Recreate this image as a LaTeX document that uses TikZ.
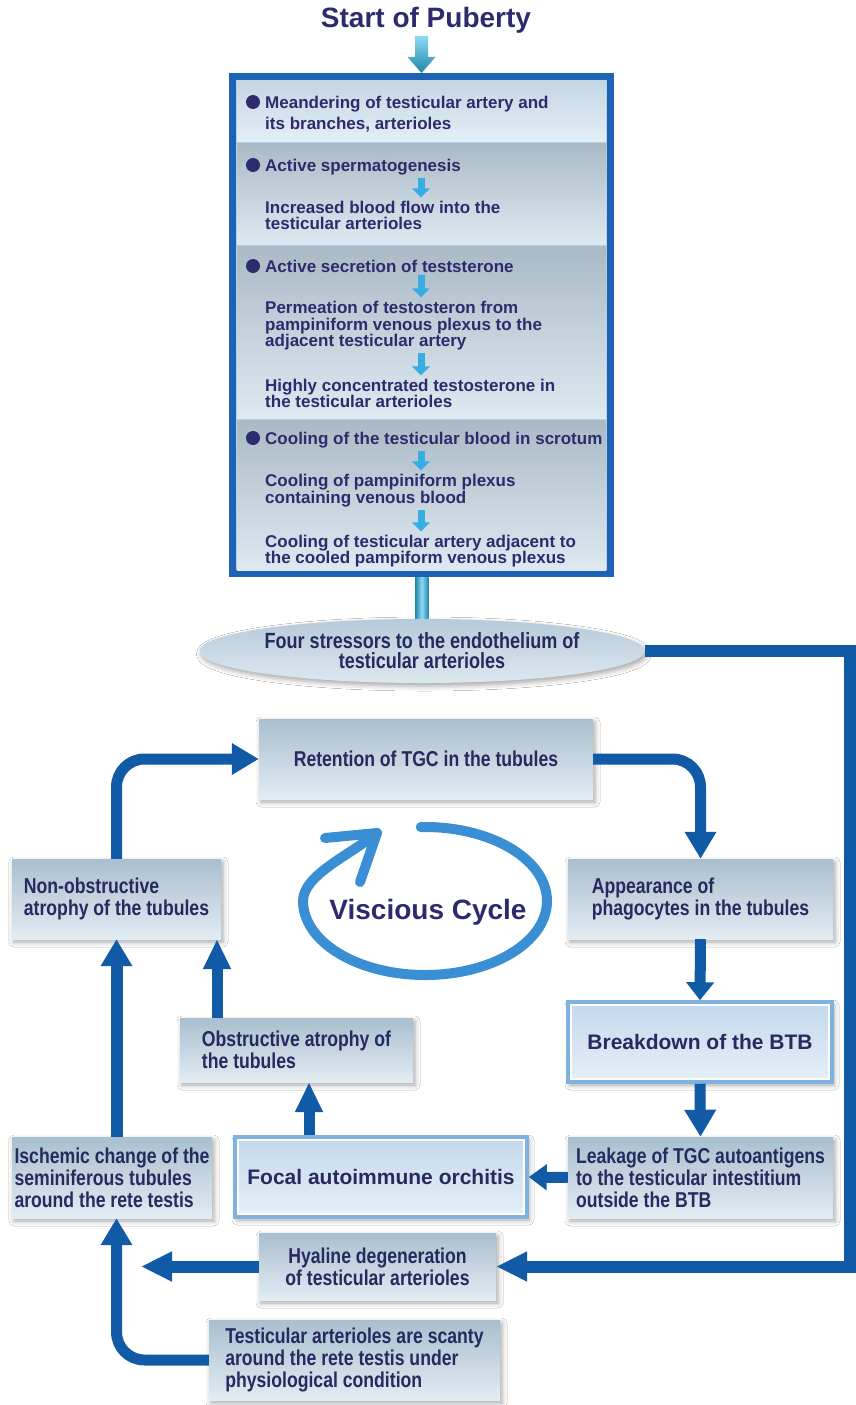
\documentclass[tikz,border=0pt]{standalone}
\usepackage{fontspec}
\setmainfont{Liberation Sans}
\newfontfamily\narrowsans[FakeStretch=0.82]{Liberation Sans}
\usetikzlibrary{arrows.meta,shapes.geometric,calc,shadows.blur}

\definecolor{navy}{HTML}{2D2B6D}
\definecolor{boxtext}{HTML}{262A5E}
\definecolor{arrowblue}{HTML}{115AA6}
\definecolor{framebl}{HTML}{1C62B5}
\definecolor{cycleblue}{HTML}{3A8ED3}
\definecolor{cyanar}{HTML}{36ADE3}
\definecolor{boxtop}{HTML}{A9BFCF}
\definecolor{boxbot}{HTML}{E2ECF3}
\definecolor{keyedge}{HTML}{80B2E0}
\definecolor{keytop}{HTML}{C2D8EC}
\definecolor{keybot}{HTML}{E6F0F8}
\definecolor{secgap}{HTML}{B4D0E8}
\definecolor{secAtop}{HTML}{C3D6E4}
\definecolor{secAbot}{HTML}{E4EEF5}
\definecolor{sectop}{HTML}{A9BAC6}
\definecolor{secbot}{HTML}{DEE9F1}
\definecolor{elltop}{HTML}{B6CAD9}
\definecolor{ellbot}{HTML}{DCE8F0}
\definecolor{tealdark}{HTML}{1F86A8}
\definecolor{cyanlight}{HTML}{8EDAF3}

\tikzset{
  softshadow/.style={blur shadow={shadow xshift=2pt, shadow yshift=-3pt,
      shadow blur radius=5pt, shadow opacity=35}},
  lowbox/.style={rectangle, inner sep=0pt, top color=boxtop, bottom color=boxbot,
      softshadow, text=boxtext, align=left,
      font=\narrowsans\bfseries\fontsize{21.5}{22}\selectfont},
  keybox/.style={rectangle, inner sep=0pt, draw=keyedge, line width=3.5pt,
      top color=keytop, bottom color=keybot, softshadow, text=boxtext, align=center,
      font=\bfseries\fontsize{21}{24}\selectfont,
      path picture={\draw[white, line width=1.2pt]
        ([shift={(3,3)}]path picture bounding box.north west) rectangle
        ([shift={(-3,-3)}]path picture bounding box.south east);}},
  toptext/.style={anchor=base west, inner sep=0pt, text=navy,
      font=\bfseries\fontsize{17}{17}\selectfont},
  flow/.style={arrowblue, line width=11pt, rounded corners=28pt,
      -{Triangle[length=27pt,width=30pt]}},
  shortflow/.style={arrowblue, line width=11pt, -{Triangle[length=18pt,width=27pt]}},
  smallarr/.style={cyanar, line width=7pt, shorten <=3pt, shorten >=3pt,
      -{Triangle[length=9pt,width=17pt]}},
  cyclearc/.style={cycleblue, line width=10pt, line cap=round, line join=round},
}

\begin{document}
\begin{tikzpicture}[x=1pt,y=-1pt]
\useasboundingbox (0,0) rectangle (856,1405);
\fill[white] (0,0) rectangle (856,1405);

% ---------- title and the framed list of conditions ----------
\node[text=navy, font=\bfseries\fontsize{28}{30}\selectfont, inner sep=0pt]
  (title) at (426,20) {Start of Puberty};

\node[draw=framebl, line width=7pt, fill=secgap, inner sep=0pt,
      minimum width=378, minimum height=497] (frame) at (421.5,325) {};
\shade[top color=secAtop, bottom color=secAbot] (237,80) rectangle (606,141);
\shade[top color=sectop, bottom color=secbot] (237,143) rectangle (606,244);
\shade[top color=sectop, bottom color=secbot] (237,246) rectangle (606,418);
\shade[top color=sectop, bottom color=secbot] (237,420) rectangle (606,570);

% arrow from the title into the frame
\shade[top color=cyanlight, bottom color=tealdark]
  (frame.north) -- ++(-14,-16) -- ++(7.5,0) -- ++(0,-21) -- ++(13,0)
  -- ++(0,21) -- ++(7.5,0) -- cycle;

\foreach \y in {102,165,266,438} \fill[navy] (253,\y) circle[radius=7];

\node[toptext] (m1) at (265,108) {Meandering of testicular artery and};
\node[toptext] (m2) at (265,129) {its branches, arterioles};
\node[toptext] (sp1) at (265,171) {Active spermatogenesis};
\node[toptext] (sp2) at (265,213) {Increased blood flow into the};
\node[toptext] (sp3) at (265,229) {testicular arterioles};
\node[toptext] (ts1) at (265,272) {Active secretion of teststerone};
\node[toptext] (ts2) at (265,313) {Permeation of testosteron from};
\node[toptext] (ts3) at (265,330) {pampiniform venous plexus to the};
\node[toptext] (ts4) at (265,346) {adjacent testicular artery};
\node[toptext] (ts5) at (265,391) {Highly concentrated testosterone in};
\node[toptext] (ts6) at (265,407) {the testicular arterioles};
\node[toptext] (co1) at (265,444) {Cooling of the testicular blood in scrotum};
\node[toptext] (co2) at (265,486) {Cooling of pampiniform plexus};
\node[toptext] (co3) at (265,503) {containing venous blood};
\node[toptext] (co4) at (265,547) {Cooling of testicular artery adjacent to};
\node[toptext] (co5) at (265,563) {the cooled pampiform venous plexus};

\coordinate (ax) at (421,0);
\draw[smallarr] (sp1.south -| ax) -- (sp2.north -| ax);
\draw[smallarr] (ts1.south -| ax) -- (ts2.north -| ax);
\draw[smallarr] (ts4.south -| ax) -- (ts5.north -| ax);
\draw[smallarr] (co1.south -| ax) -- (co2.north -| ax);
\draw[smallarr] (co3.south -| ax) -- (co4.north -| ax);

% ---------- the four stressors ----------
\node[ellipse, inner sep=0pt, minimum width=440, minimum height=64,
      top color=elltop, bottom color=ellbot, softshadow, align=center, text=boxtext,
      font=\narrowsans\bfseries\fontsize{22}{20}\selectfont]
  (ell) at (422,651) {Four stressors to the endothelium of\\testicular arterioles};
\shade[left color=tealdark, right color=tealdark, middle color=cyanlight]
  ($(frame.south)+(-6.5,0)$) rectangle ($(ell.north)+(6.5,0)$);

% ---------- boxes of the cycle ----------
\node[lowbox, minimum width=334, minimum height=80, align=center] (ret) at (426,759)
  {Retention of TGC in the tubules};
\node[lowbox, minimum width=209, minimum height=80] (nonobs) at (116.5,899)
  {Non-obstructive\\atrophy of the tubules};
\node[lowbox, minimum width=265, minimum height=80] (app) at (700.5,899)
  {Appearance of\\phagocytes in the tubules};
\node[keybox, minimum width=264, minimum height=80] (btb) at (700,1042)
  {Breakdown of the BTB};
\node[lowbox, minimum width=233, minimum height=64] (obs) at (296.5,1050)
  {Obstructive atrophy of\\the tubules};
\node[lowbox, minimum width=200, minimum height=81] (isch) at (112,1177.5)
  {Ischemic change of the\\seminiferous tubules\\around the rete testis};
\node[keybox, minimum width=292, minimum height=80] (focal) at (381,1177)
  {Focal autoimmune orchitis};
\node[lowbox, minimum width=265, minimum height=81] (leak) at (700.5,1177.5)
  {Leakage of TGC autoantigens\\to the testicular intestitium\\outside the BTB};
\node[lowbox, minimum width=237, minimum height=67, align=center] (hya) at (377.5,1266.5)
  {Hyaline degeneration\\of testicular arterioles};
\node[lowbox, minimum width=291, minimum height=80] (tst) at (354.5,1360)
  {Testicular arterioles are scanty\\around the rete testis under\\physiological condition};

% the cycle symbol
\node[text=navy, font=\bfseries\fontsize{28}{30}\selectfont, inner sep=0pt]
  (vc) at (428,912) {Viscious Cycle};
\coordinate (cc) at (425,901);
\draw[cyclearc] (cc) ++(268:122 and 74)
  arc[start angle=268, end angle=540, x radius=122, y radius=74]
  .. controls +(0,-26) and (350,855) .. (377,833) coordinate (tip);
\draw[cyclearc] (325,838) -- (tip) -- (360,882);

% ---------- connectors ----------
\coordinate (rc) at (850,0);
\coordinate (hyaend) at (141,1266.5);
\draw[flow] (nonobs.north) -- (nonobs.north |- ret.west) -- (ret.west);
\draw[flow] (ret.east) -- (ret.east -| app.north) -- (app.north);
\draw[shortflow] (app.south) -- (btb.north);
\draw[flow] (btb.south) -- (leak.north);
\draw[shortflow, -{Triangle[length=18pt,width=25pt]}] (leak.west) -- (focal.east);
\draw[flow, -{Triangle[length=30pt,width=26pt]}]
  ([xshift=-72pt]focal.north) -- ([xshift=-72pt]focal.north |- obs.south);
\draw[flow, -{Triangle[length=30pt,width=26pt]}]
  ([xshift=-79.5pt]obs.north) -- ([xshift=-79.5pt]obs.north |- nonobs.south);
\draw[flow, line width=12pt] (nonobs.south |- isch.north) -- (nonobs.south);
\draw[arrowblue, line width=12pt, -{Triangle[length=31pt,width=28pt]}]
  (ell.east) -- (ell.east -| rc) -- (rc |- hya.east) -- (hya.east);
\draw[arrowblue, line width=12pt, -{Triangle[length=31pt,width=28pt]}]
  (hya.west) -- (hyaend);
\draw[flow] (tst.west) -- (tst.west -| nonobs.south) -- (isch.south -| nonobs.south);
\end{tikzpicture}
\end{document}
